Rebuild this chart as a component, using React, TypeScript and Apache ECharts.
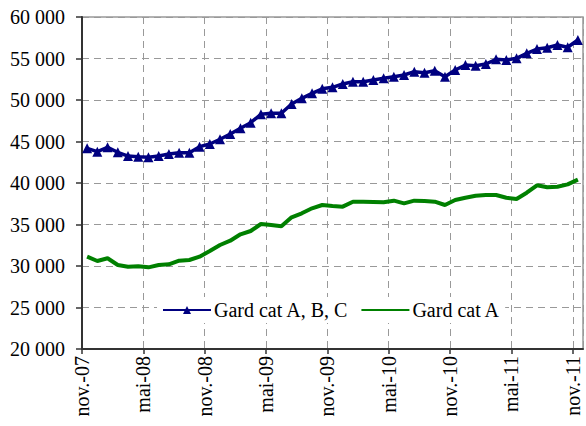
import React, { useEffect, useRef } from "react";
import * as echarts from "echarts";

const tickLabels = ["nov.-07", "mai-08", "nov.-08", "mai-09", "nov.-09", "mai-10", "nov.-10", "mai-11", "nov.-11"];

const seriesNames = ["Gard cat A, B, C", "Gard cat A"];

// monthly values, nov-07 .. nov-11
const gardABC = [
  44180, 43770, 44300, 43700, 43250, 43170, 43100, 43250, 43500, 43650,
  43650, 44380, 44700, 45270, 45900, 46590, 47270, 48280, 48400, 48400,
  49520, 50200, 50800, 51350, 51530, 51930, 52200, 52200, 52400, 52610,
  52810, 53010, 53410, 53290, 53530, 52810, 53610, 54220, 54130, 54340,
  54900, 54820, 55020, 55620, 56140, 56300, 56630, 56350, 57230,
];

const gardA = [
  31120, 30600, 30930, 30120, 29920, 29960, 29840, 30120, 30200, 30640,
  30720, 31120, 31810, 32530, 33050, 33820, 34220, 35060, 34940, 34780,
  35870, 36350, 36950, 37350, 37230, 37150, 37750, 37750, 37710, 37670,
  37870, 37550, 37870, 37830, 37750, 37350, 37950, 38230, 38470, 38550,
  38550, 38230, 38070, 38830, 39720, 39480, 39550, 39840, 40400,
];

const FONT = "Liberation Serif";
const FS = 20;

export default function App() {
  const ref = useRef<HTMLDivElement>(null);
  useEffect(() => {
    if (!ref.current) return;
    const chart = echarts.init(ref.current, null, { renderer: "svg" });
    const toPts = (arr: number[]) => arr.map((v, i) => [i + 0.5, v]);
    chart.setOption({
      animation: false,
      backgroundColor: "#fff",
      textStyle: { fontFamily: FONT },
      grid: {
        left: 82,
        right: 3,
        top: 17,
        bottom: 77,
        show: true,
        borderColor: "#999",
        borderWidth: 1.5,
        backgroundColor: "transparent",
      },
      legend: {
        left: 157,
        top: 297,
        itemWidth: 48,
        itemHeight: 10,
        itemGap: 12,
        padding: [3, 5, 3, 5],
        backgroundColor: "#fff",
        textStyle: { fontFamily: FONT, fontSize: FS, color: "#000", padding: [0, 0, 0, -2] },
        data: [
          { name: seriesNames[0] },
          { name: seriesNames[1], itemStyle: { color: "rgba(0,0,0,0)", borderWidth: 0 } },
        ],
      },
      xAxis: {
        type: "value",
        min: 0,
        max: 49,
        interval: 6,
        axisLine: { show: true, onZero: false, lineStyle: { color: "#333", width: 2 } },
        axisTick: { show: true, length: 5, lineStyle: { color: "#333", width: 1.5 } },
        splitLine: { show: true, lineStyle: { color: "#999", type: [7, 5], width: 1 } },
        axisLabel: {
          rotate: 90,
          margin: 7,
          fontFamily: FONT,
          fontSize: FS,
          color: "#000",
          showMaxLabel: false,
          formatter: (v: number) => (v % 6 === 0 ? tickLabels[v / 6] ?? "" : ""),
        },
      },
      yAxis: {
        type: "value",
        min: 20000,
        max: 60000,
        interval: 5000,
        axisLine: { show: true, lineStyle: { color: "#333", width: 2 } },
        axisTick: { show: true, length: 6, lineStyle: { color: "#333", width: 1.5 } },
        splitLine: { show: true, lineStyle: { color: "#999", type: [7, 5], width: 1 } },
        axisLabel: {
          margin: 17,
          fontFamily: FONT,
          fontSize: FS,
          color: "#000",
          formatter: (v: number) => {
            const s = String(v);
            return s.length > 3 ? s.slice(0, s.length - 3) + " " + s.slice(-3) : s;
          },
        },
      },
      series: [
        {
          name: seriesNames[0],
          type: "line",
          data: toPts(gardABC),
          color: "#000080",
          symbol: "triangle",
          symbolSize: 10,
          showAllSymbol: true,
          lineStyle: { width: 3.5, color: "#000080" },
          itemStyle: { color: "#000080" },
        },
        {
          name: seriesNames[1],
          type: "line",
          data: toPts(gardA),
          color: "#008000",
          symbol: "none",
          lineStyle: { width: 4, color: "#008000" },
          itemStyle: { color: "#008000" },
        },
      ],
    });
    return () => chart.dispose();
  }, []);
  return (
    <div
      ref={ref}
      style={{ position: "fixed", left: 0, top: 0, width: 586, height: 426 }}
    />
  );
}
